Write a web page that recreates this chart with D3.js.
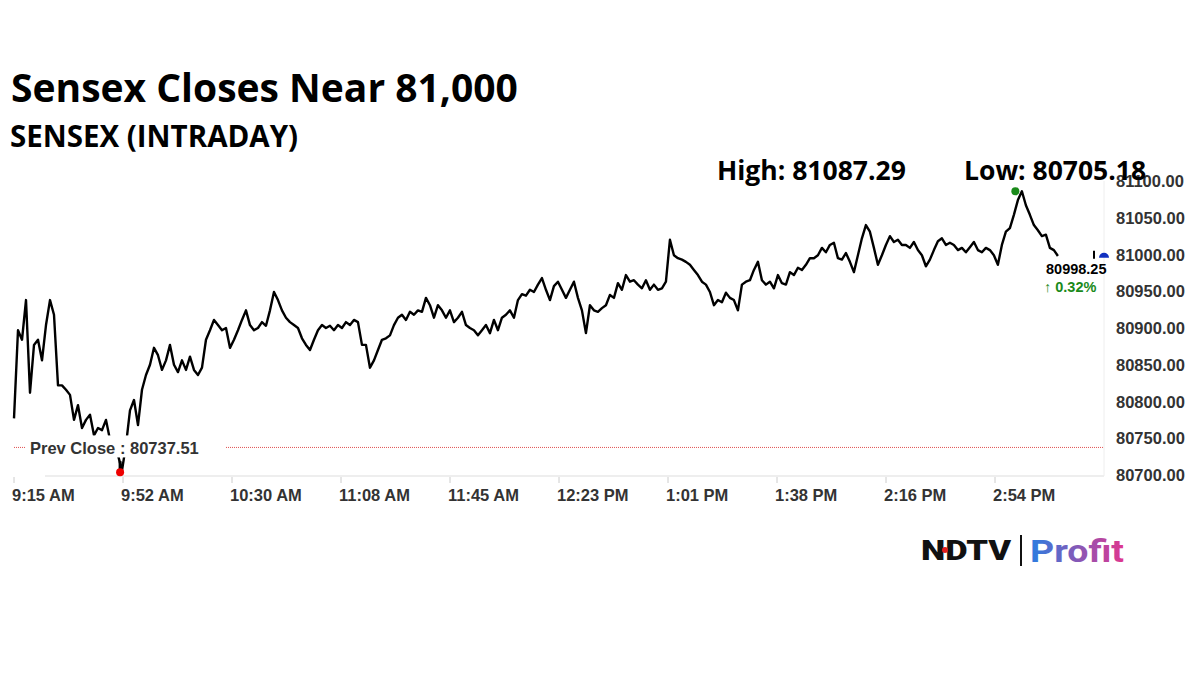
<!DOCTYPE html>
<html>
<head>
<meta charset="utf-8">
<script src="https://d3js.org/d3.v7.min.js"></script>
<style>
  body { margin: 0; background: #fff; }
</style>
</head>
<body>
<svg id="chart" width="1200" height="674"></svg>
<script>
// ── data ────────────────────────────────────────────
const prevClose = 80737.51;
const dayHigh = 81087.29;
const dayLow = 80705.18;
const lastPrice = 80998.25;
const changePct = "0.32%";
const stepMin = 1.376;            // sampling step of the intraday series (minutes)
const tickLabels = ["9:15 AM", "9:52 AM", "10:30 AM", "11:08 AM", "11:45 AM",
                    "12:23 PM", "1:01 PM", "1:38 PM", "2:16 PM", "2:54 PM"];
const priceTicks = [80700, 80750, 80800, 80850, 80900, 80950, 81000, 81050, 81100];
const prices = [
  80777, 80897, 80884, 80938, 80812, 80877, 80884, 80856, 80904, 80938, 80918,
  80822, 80822, 80816, 80809, 80775, 80795, 80764, 80775, 80782, 80754, 80764,
  80761, 80775, 80748, 80741, 80727, 80706, 80741, 80788, 80802, 80768, 80816,
  80836, 80850, 80873, 80863, 80843, 80856, 80877, 80850, 80840, 80856, 80843,
  80861, 80843, 80836, 80846, 80884, 80897, 80911, 80904, 80897, 80900, 80873,
  80884, 80897, 80911, 80924, 80904, 80897, 80900, 80908, 80903, 80924, 80949,
  80938, 80924, 80914, 80908, 80904, 80900, 80886, 80877, 80870, 80884, 80897,
  80904, 80900, 80903, 80897, 80904, 80900, 80908, 80904, 80911, 80908, 80877,
  80877, 80846, 80856, 80870, 80884, 80886, 80890, 80904, 80914, 80918, 80911,
  80922, 80918, 80924, 80922, 80941, 80931, 80914, 80931, 80924, 80914, 80924,
  80908, 80914, 80922, 80904, 80900, 80897, 80890, 80897, 80904, 80893, 80911,
  80897, 80914, 80918, 80924, 80914, 80938, 80946, 80944, 80952, 80949, 80959,
  80968, 80952, 80938, 80957, 80963, 80952, 80941, 80952, 80963, 80941, 80924,
  80893, 80931, 80924, 80922, 80927, 80931, 80945, 80941, 80961, 80952, 80972,
  80963, 80965, 80959, 80954, 80965, 80952, 80959, 80952, 80954, 80963, 81020,
  80999, 80995, 80993, 80990, 80986, 80979, 80972, 80963, 80959, 80949, 80931,
  80938, 80935, 80948, 80941, 80938, 80924, 80959, 80963, 80965, 80979, 80990,
  80965, 80959, 80963, 80954, 80972, 80961, 80959, 80976, 80972, 80982, 80979,
  80986, 80995, 80995, 80999, 81009, 81003, 81013, 81016, 80995, 80993, 81002,
  80990, 80976, 80999, 81022, 81040, 81031, 81009, 80986, 80999, 81013, 81025,
  81017, 81020, 81013, 81013, 81009, 81017, 81006, 80999, 80984, 80993, 81006,
  81018, 81022, 81013, 81016, 81013, 81006, 81009, 81003, 81010, 81017, 81006,
  81003, 81009, 81006, 80999, 80986, 81013, 81031, 81036, 81054, 81074, 81086,
  81067, 81054, 81040, 81033, 81025, 81027, 81009, 81006, 80998
];
const lowMinute = 36.5;   // time of the day's low (minutes after 9:15)
const highMinute = 344.5; // time of the day's high

const HEAD = "'Open Sans', sans-serif";
const AX = "'Liberation Sans', Arial, sans-serif";

// ── setup ───────────────────────────────────────────
const svg = d3.select("#chart");
const x = d3.scaleLinear().domain([0, 375]).range([14, 1104]);
const y = d3.scaleLinear().domain([80700, 81100]).range([475, 181]);

// titles
svg.append("text").attr("x", 11).attr("y", 102)
  .style("font-family", HEAD).style("font-size", "39px").style("font-weight", 700)
  .text("Sensex Closes Near 81,000");
svg.append("text").attr("x", 10).attr("y", 147)
  .style("font-family", HEAD).style("font-size", "29.5px").style("font-weight", 700)
  .text("SENSEX (INTRADAY)");

// x axis baseline + ticks
svg.append("line").attr("x1", 45).attr("x2", 1104).attr("y1", 476).attr("y2", 476)
  .attr("stroke", "#ddd").attr("stroke-width", 1);
const xTicks = tickLabels.map((t, i) => ({ t, m: i * 37.5 }));
const xg = svg.append("g");
xg.selectAll("line").data(xTicks).enter().append("line")
  .attr("x1", d => x(d.m)).attr("x2", d => x(d.m))
  .attr("y1", 477).attr("y2", 483).attr("stroke", "#ccc");
xg.selectAll("text").data(xTicks).enter().append("text")
  .attr("x", d => x(d.m) - 2).attr("y", 501)
  .style("font-family", AX).style("font-size", "16.5px").style("font-weight", 700).attr("fill", "#333")
  .text(d => d.t);

// right axis
svg.append("line").attr("x1", 1104).attr("x2", 1104).attr("y1", 181).attr("y2", 476)
  .attr("stroke", "#eee");
svg.append("g").selectAll("text").data(priceTicks).enter().append("text")
  .attr("x", 1116).attr("y", d => y(d) + 6)
  .style("font-family", AX).style("font-size", "16.5px").style("font-weight", 700).attr("fill", "#333")
  .text(d => d.toFixed(2));

// prev close line
svg.append("line").attr("x1", 14).attr("x2", 1104)
  .attr("y1", y(prevClose)).attr("y2", y(prevClose))
  .attr("stroke", "#e05050").attr("stroke-width", 1).attr("stroke-dasharray", "1,1");

// price line
const line = d3.line().x((d, i) => x(i * stepMin)).y(d => y(d));
svg.append("path").datum(prices).attr("d", line)
  .attr("fill", "none").attr("stroke", "#000").attr("stroke-width", 2.4)
  .attr("stroke-linejoin", "round");

// prev close label (covers the line)
svg.append("rect").attr("x", 26).attr("y", y(prevClose) - 12).attr("width", 200).attr("height", 22)
  .attr("fill", "#fff");
svg.append("text").attr("x", 30).attr("y", y(prevClose) + 7)
  .style("font-family", AX).style("font-size", "16.5px").style("font-weight", 700).attr("fill", "#333")
  .text("Prev Close : " + prevClose.toFixed(2));

// low marker
svg.append("line").attr("x1", x(lowMinute)).attr("x2", x(lowMinute))
  .attr("y1", y(dayLow) - 10).attr("y2", y(dayLow) - 2)
  .attr("stroke", "#000").attr("stroke-width", 3);
svg.append("circle").attr("cx", x(lowMinute)).attr("cy", y(dayLow) + 1).attr("r", 4)
  .attr("fill", "#e00");
// high marker
svg.append("circle").attr("cx", x(highMinute)).attr("cy", y(dayHigh) + 1).attr("r", 4)
  .attr("fill", "#1a8a1a");

// last price marker
svg.append("path")
  .attr("d", d3.arc()({ innerRadius: 0, outerRadius: 5, startAngle: -Math.PI / 2, endAngle: Math.PI / 2 }))
  .attr("transform", `translate(1104,${y(lastPrice) + 2})`).attr("fill", "#1030c0");
svg.append("line").attr("x1", 1094).attr("x2", 1094).attr("y1", y(lastPrice) - 5).attr("y2", y(lastPrice) + 3)
  .attr("stroke", "#000").attr("stroke-width", 2);
svg.append("text").attr("x", 1046).attr("y", y(lastPrice) + 18)
  .style("font-family", AX).style("font-size", "14.5px").style("font-weight", 700).attr("fill", "#000")
  .text(lastPrice.toFixed(2));
svg.append("text").attr("x", 1044).attr("y", y(lastPrice) + 36)
  .style("font-family", AX).style("font-size", "14.5px").style("font-weight", 700).attr("fill", "#1a8a1a")
  .text("\u2191 " + changePct);

// high / low headline
svg.append("text").attr("x", 717).attr("y", 180)
  .style("font-family", HEAD).style("font-size", "26.5px").style("font-weight", 700)
  .text("High: " + dayHigh.toFixed(2));
svg.append("text").attr("x", 964).attr("y", 180)
  .style("font-family", HEAD).style("font-size", "26.5px").style("font-weight", 700)
  .text("Low: " + dayLow.toFixed(2));

// logo
const defs = svg.append("defs");
const grad = defs.append("linearGradient").attr("id", "pg");
grad.append("stop").attr("offset", "0%").attr("stop-color", "#2a7de1");
grad.append("stop").attr("offset", "100%").attr("stop-color", "#e0368e");
svg.append("text").attr("x", 921).attr("y", 560)
  .style("font-family", "Roboto, sans-serif").style("font-size", "27px").style("font-weight", 900)
  .attr("textLength", 90).attr("lengthAdjust", "spacingAndGlyphs").attr("fill", "#111")
  .text("NDTV");
svg.append("circle").attr("cx", 945).attr("cy", 550).attr("r", 3).attr("fill", "#e02020");
svg.append("line").attr("x1", 1021).attr("x2", 1021).attr("y1", 535).attr("y2", 566)
  .attr("stroke", "#111").attr("stroke-width", 2);
svg.append("text").attr("x", 1030).attr("y", 562)
  .style("font-family", "Roboto, sans-serif").style("font-size", "32px").style("font-weight", 700)
  .attr("textLength", 94).attr("lengthAdjust", "spacingAndGlyphs").attr("fill", "url(#pg)")
  .text("Profit");
</script>
</body>
</html>
